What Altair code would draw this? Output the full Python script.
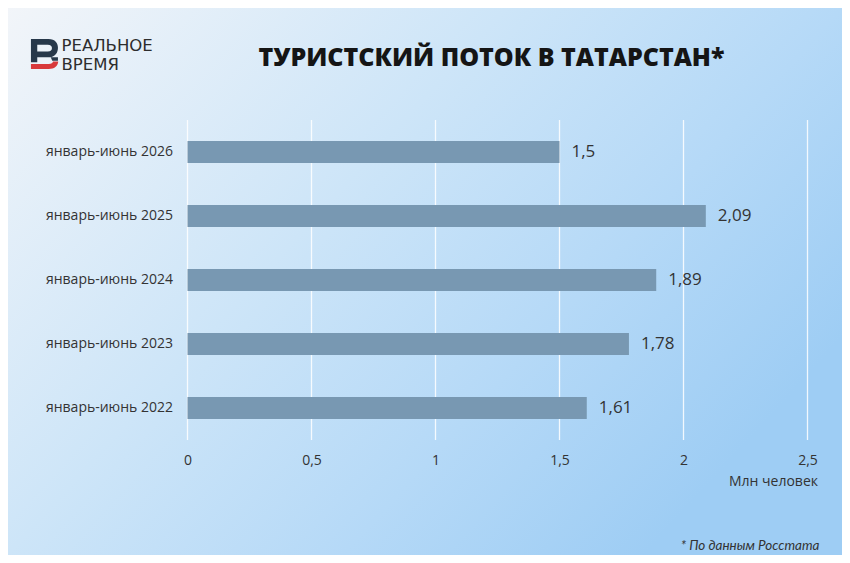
import altair as alt
import pandas as pd

periods = ["январь-июнь 2026", "январь-июнь 2025", "январь-июнь 2024",
           "январь-июнь 2023", "январь-июнь 2022"]
values = [1.5, 2.09, 1.89, 1.78, 1.61]
value_labels = ["1,5", "2,09", "1,89", "1,78", "1,61"]
x_ticks = [0, 0.5, 1, 1.5, 2, 2.5]

title_text = "ТУРИСТСКИЙ ПОТОК В ТАТАРСТАН*"
unit_text = "Млн человек"
source_text = "* По данным Росстата"
logo_line1 = "РЕАЛЬНОЕ"
logo_line2 = "ВРЕМЯ"

df = pd.DataFrame({"period": periods, "value": values, "label": value_labels})
ticks_df = pd.DataFrame({"value": x_ticks})

W, H = 620, 320
FONT = "Open Sans"
TXT = "#333333"
BAR = "#7898b2"

one = alt.Data(values=[{"k": 1}])

gradient = {
    "gradient": "linear", "x1": 0, "y1": 0, "x2": 1, "y2": 0.6,
    "stops": [
        {"offset": 0, "color": "#f2f5f9"},
        {"offset": 0.44, "color": "#cde5f8"},
        {"offset": 0.735, "color": "#b5d9f7"},
        {"offset": 1, "color": "#9ecdf4"},
    ],
}

bg = alt.Chart(one).mark_rect(color=gradient, stroke=None).encode(
    x=alt.value(-180), x2=alt.value(W + 36),
    y=alt.value(-113), y2=alt.value(H + 116),
)

x_scale = alt.Scale(domain=[0, 2.5], nice=False)

grid = alt.Chart(ticks_df).mark_rule(color="#ffffff", strokeWidth=1.3,
                                     opacity=0.85).encode(
    x=alt.X("value:Q", scale=x_scale),
    y=alt.value(0), y2=alt.value(H),
)

y_enc = alt.Y("period:N", sort=periods, title=None,
              scale=alt.Scale(paddingInner=0.66, paddingOuter=0.33),
              axis=alt.Axis(domain=False, ticks=False, grid=False, zindex=1,
                            labelFont=FONT, labelFontSize=14, labelColor=TXT,
                            labelPadding=15))

bars = alt.Chart(df).mark_bar(color=BAR).encode(
    x=alt.X("value:Q", scale=x_scale,
            axis=alt.Axis(values=x_ticks, domain=False, ticks=False,
                          grid=False, zindex=1, labelFlush=False,
                          labelExpr="replace(format(datum.value, ''), '.', ',')",
                          labelFont=FONT, labelFontSize=14, labelColor=TXT,
                          labelPadding=13,
                          title=unit_text, titleFont=FONT, titleFontSize=14,
                          titleFontWeight="normal", titleColor=TXT,
                          titleAnchor="end", titleAlign="right",
                          titleBaseline="middle", titleX=W + 10, titleY=41)),
    y=y_enc,
)

labels = alt.Chart(df).mark_text(align="left", dx=12, font=FONT, fontSize=17,
                                 color=TXT).encode(
    x="value:Q", y=alt.Y("period:N", sort=periods), text="label:N")

title = alt.Chart(one).mark_text(text=title_text, font=FONT, fontSize=25,
                                 fontWeight=800, color="#151515",
                                 align="center", baseline="middle").encode(
    x=alt.value(304), y=alt.value(-62))

source = alt.Chart(one).mark_text(text=source_text, font="Lato", fontSize=13.5,
                                  fontStyle="italic", color=TXT,
                                  align="right", baseline="middle").encode(
    x=alt.value(632), y=alt.value(426))

logo1 = alt.Chart(one).mark_text(text=logo_line1, font="DejaVu Sans",
                                 fontSize=16.5, color="#2d2d2d", align="left",
                                 baseline="middle").encode(
    x=alt.value(-126), y=alt.value(-74))
logo2 = alt.Chart(one).mark_text(text=logo_line2, font="DejaVu Sans",
                                 fontSize=16.5, color="#2d2d2d", align="left",
                                 baseline="middle").encode(
    x=alt.value(-126), y=alt.value(-55))

dark_path = ("M -0.87 -1 L 0.3 -1 C 0.75 -1 0.93 -0.72 0.93 -0.42 "
             "C 0.93 -0.1 0.75 0.22 0.3 0.22 L -0.45 0.22 L -0.45 0.55 L -0.87 0.55 Z "
             "M -0.45 -0.62 L -0.45 -0.16 L 0.25 -0.16 C 0.45 -0.16 0.53 -0.27 0.53 -0.4 "
             "C 0.53 -0.53 0.45 -0.62 0.25 -0.62 Z "
             "M 0.45 0.22 L 0.93 0.22 L 0.93 0.45 L 0.55 0.45 Z")
red_path = ("M -0.87 0.66 L 0.32 0.66 C 0.5 0.66 0.58 0.58 0.6 0.5 L 0.95 0.5 "
            "C 0.92 0.82 0.68 1.0 0.32 1.0 L -0.87 1.0 Z")

logo_dark = alt.Chart(one).mark_point(shape=dark_path, filled=True, size=900,
                                      color="#27384a", opacity=1,
                                      strokeWidth=0).encode(
    x=alt.value(-143.5), y=alt.value(-66))
logo_red = alt.Chart(one).mark_point(shape=red_path, filled=True, size=900,
                                     color="#d8393b", opacity=1,
                                     strokeWidth=0).encode(
    x=alt.value(-143.5), y=alt.value(-66))

chart = alt.layer(bg, grid, bars, labels, title, source, logo1, logo2,
                  logo_dark, logo_red).properties(
    width=W, height=H,
    autosize=alt.AutoSizeParams(type="none"),
    padding={"left": 179.5, "top": 112, "right": 34.5, "bottom": 115},
    background="#eef4fb",
).configure_view(strokeWidth=0)

chart.save("out.html", embed_options={"renderer": "svg", "actions": False})
